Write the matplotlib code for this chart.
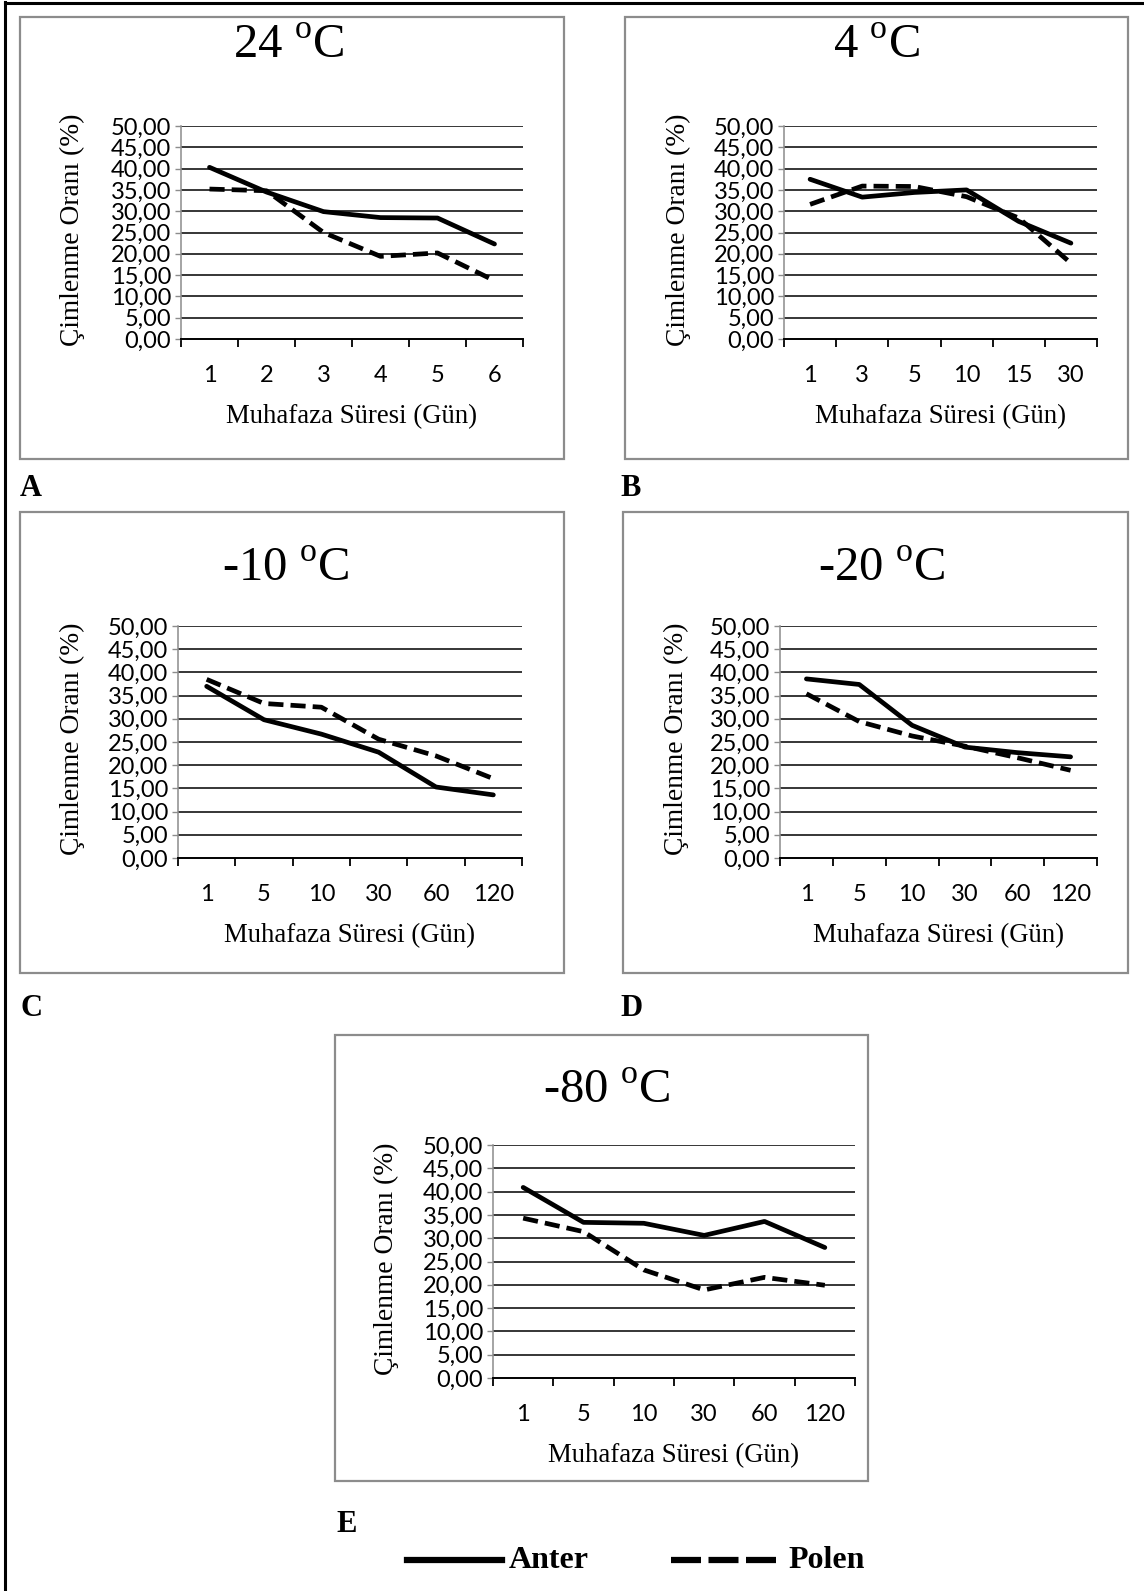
import matplotlib
matplotlib.use("Agg")
import matplotlib.pyplot as plt
from matplotlib.patches import Rectangle
from matplotlib.lines import Line2D
import numpy as np

plt.rcParams["mathtext.fontset"] = "custom"
plt.rcParams["mathtext.rm"] = "Liberation Serif"

# --- data: germination rate (%) by storage duration (days) ---
titles = ["24", "4", "-10", "-20", "-80"]
panel_letters = ["A", "B", "C", "D", "E"]

days_24 = ["1", "2", "3", "4", "5", "6"]
anter_24 = [40.3, 34.5, 29.9, 28.5, 28.4, 22.3]
polen_24 = [35.2, 34.8, 25.0, 19.4, 20.2, 13.7]

days_4 = ["1", "3", "5", "10", "15", "30"]
anter_4 = [37.5, 33.3, 34.4, 35.0, 27.6, 22.5]
polen_4 = [31.6, 35.9, 35.8, 33.4, 28.4, 17.8]

days_m10 = ["1", "5", "10", "30", "60", "120"]
anter_m10 = [37.0, 29.8, 26.7, 22.8, 15.3, 13.6]
polen_m10 = [38.5, 33.3, 32.5, 25.6, 22.0, 17.1]

days_m20 = ["1", "5", "10", "30", "60", "120"]
anter_m20 = [38.6, 37.4, 28.6, 23.9, 22.7, 21.8]
polen_m20 = [35.4, 29.4, 26.3, 24.1, 21.6, 18.9]

days_m80 = ["1", "5", "10", "30", "60", "120"]
anter_m80 = [40.9, 33.4, 33.2, 30.6, 33.6, 28.0]
polen_m80 = [34.3, 31.4, 23.2, 18.9, 21.6, 19.9]

yticks = [0, 5, 10, 15, 20, 25, 30, 35, 40, 45, 50]
ytick_labels = ["0,00", "5,00", "10,00", "15,00", "20,00", "25,00",
                "30,00", "35,00", "40,00", "45,00", "50,00"]

ylabel = "Çimlenme Oranı (%)"
xlabel = "Muhafaza Süresi (Gün)"
legend_labels = ["Anter", "Polen"]

W, H = 1144, 1591
fig = plt.figure(figsize=(W / 100, H / 100), dpi=100)


def fx(x):
    return x / W


def fy(y):
    return 1 - y / H


SERIF = "Liberation Serif"
SANS = "Lato"
LW = 3.4
DASH = (0, (3.2, 1.5))

# outer page frame (left and top edges)
fig.add_artist(Line2D([fx(5), fx(5)], [fy(2), fy(1591)], color="black", lw=2.2,
                      transform=fig.transFigure))
fig.add_artist(Line2D([fx(5), fx(1144)], [fy(2.5), fy(2.5)], color="black", lw=2.2,
                      transform=fig.transFigure))

# panel layout in pixels: frame box, axes box, title centre, ylabel x, letter pos
panels = [
    dict(box=(20, 17, 564, 459), ax=(181, 126, 523, 339), title=(289, 45),
         ylab=72, letter=(20, 489), days=days_24, a=anter_24, p=polen_24),
    dict(box=(625, 17, 1128, 459), ax=(784, 126, 1097, 339), title=(876, 45),
         ylab=678, letter=(620, 489), days=days_4, a=anter_4, p=polen_4),
    dict(box=(20, 512, 564, 973), ax=(178, 626, 522, 858), title=(286, 568),
         ylab=72, letter=(20, 1008), days=days_m10, a=anter_m10, p=polen_m10),
    dict(box=(623, 512, 1128, 973), ax=(780, 626, 1097, 858), title=(882, 568),
         ylab=676, letter=(620, 1008), days=days_m20, a=anter_m20, p=polen_m20),
    dict(box=(335, 1035, 868, 1481), ax=(493, 1145, 855, 1378), title=(607, 1090),
         ylab=386, letter=(336, 1525), days=days_m80, a=anter_m80, p=polen_m80),
]

for i, pnl in enumerate(panels):
    bx0, by0, bx1, by1 = pnl["box"]
    fig.add_artist(Rectangle((fx(bx0), fy(by1)), fx(bx1) - fx(bx0), fy(by0) - fy(by1),
                             transform=fig.transFigure, fill=False,
                             edgecolor="#8c8c8c", lw=1.6))

    x0, y0, x1, y1 = pnl["ax"]
    ax = fig.add_axes([fx(x0), fy(y1), fx(x1) - fx(x0), fy(y0) - fy(y1)])
    n = len(pnl["days"])
    xs = np.arange(n) + 0.5
    ax.set_xlim(0, n)
    ax.set_ylim(0, 50)

    ax.plot(xs, pnl["a"], color="black", lw=LW, solid_capstyle="round",
            solid_joinstyle="round", zorder=3)
    ax.plot(xs, pnl["p"], color="black", lw=LW, linestyle=DASH,
            dash_capstyle="butt", zorder=3)

    # horizontal gridlines
    for v in yticks[1:]:
        ax.axhline(v, color="black", lw=1.1, zorder=1)

    ax.set_yticks(yticks)
    ax.set_yticklabels(ytick_labels, fontfamily=SANS, fontsize=17)
    ax.tick_params(axis="y", length=4, width=1, color="#8c8c8c", pad=3)

    ax.set_xticks(np.arange(n + 1))
    ax.set_xticklabels([])
    ax.set_xticks(xs, minor=True)
    ax.set_xticklabels(pnl["days"], minor=True, fontfamily=SANS, fontsize=17)
    ax.tick_params(axis="x", which="major", length=6, width=1.3, color="black",
                   direction="out")
    ax.tick_params(axis="x", which="minor", length=0, pad=19)

    for s in ["top", "right"]:
        ax.spines[s].set_visible(False)
    ax.spines["left"].set_color("#8c8c8c")
    ax.spines["left"].set_linewidth(1.1)
    ax.spines["bottom"].set_color("black")
    ax.spines["bottom"].set_linewidth(1.4)
    ax.patch.set_alpha(0)

    tx, ty = pnl["title"]
    fig.text(fx(tx), fy(ty), titles[i] + r" $^{\mathrm{o}}$C", ha="center",
             va="center", fontfamily=SERIF, fontsize=35)

    fig.text(fx(pnl["ylab"]), fy((y0 + y1) / 2 - 3), ylabel, rotation=90, ha="center",
             va="center", fontfamily=SERIF, fontsize=19.8)
    fig.text(fx((x0 + x1) / 2), fy(y1 + 78), xlabel, ha="center", va="center",
             fontfamily=SERIF, fontsize=19.3)

    lx, ly = pnl["letter"]
    fig.text(fx(lx), fy(ly), panel_letters[i], ha="left", va="center",
             fontfamily=SERIF, fontweight="bold", fontsize=22)

# shared legend at the bottom
ly = 1560
fig.add_artist(Line2D([fx(407), fx(502)], [fy(ly), fy(ly)], color="black", lw=4.5,
                      transform=fig.transFigure))
fig.text(fx(509), fy(ly), legend_labels[0], ha="left", va="center",
         fontfamily=SERIF, fontweight="bold", fontsize=23)
fig.add_artist(Line2D([fx(671), fx(780)], [fy(ly), fy(ly)], color="black", lw=4.5,
                      linestyle=(0, (4.8, 1.2)), dash_capstyle="butt",
                      transform=fig.transFigure))
fig.text(fx(788), fy(ly), legend_labels[1], ha="left", va="center",
         fontfamily=SERIF, fontweight="bold", fontsize=23)

fig.savefig("out.png", dpi=100, facecolor="white")
